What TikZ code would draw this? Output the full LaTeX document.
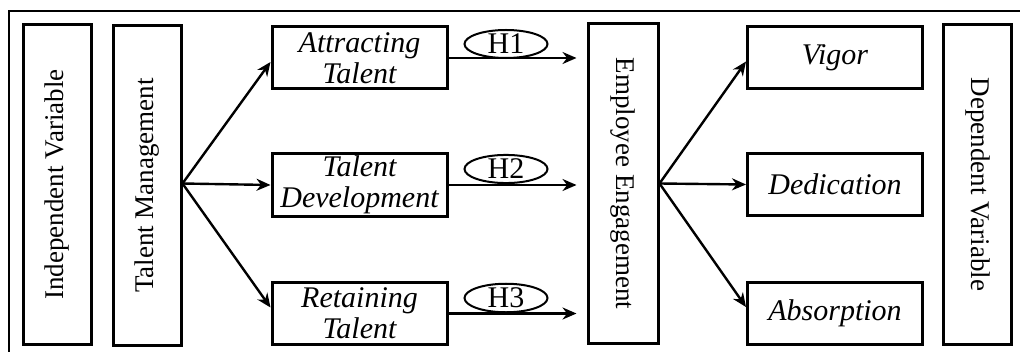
\documentclass[tikz,border=0pt]{standalone}
\usepackage{fontspec}
\setmainfont{Liberation Serif}
\usetikzlibrary{shapes.geometric,arrows.meta}
\begin{document}
\begin{tikzpicture}[x=0.5pt,y=-0.5pt,
  vbox/.style={draw,line width=1.5pt,minimum width=34pt,minimum height=159.5pt,inner sep=0pt,font=\fontsize{13.5}{15}\selectfont},
  dimbox/.style={draw,line width=1.5pt,minimum width=87.5pt,minimum height=31pt,inner sep=0pt,align=center,font=\fontsize{15}{15.5}\selectfont\itshape},
  hyp/.style={draw,ellipse,line width=1pt,minimum width=41.5pt,minimum height=12pt,inner sep=0pt,font=\fontsize{15}{15}\selectfont},
  arr/.style={-{Stealth[length=7pt,width=6pt]},line width=1.2pt},
  frame/.style={line width=1pt}]
\useasboundingbox (0,0) rectangle (1020,352);
\coordinate (fb) at (9,352);
\coordinate (ft) at (9,11);
\coordinate (fr) at (1020,11);
\draw[frame] (fb) -- (ft) -- (fr);
% boxes
\node[vbox] (IV) at (57,184.5) {\rotatebox{90}{Independent Variable}};
\node[vbox] (TM) at (147,185.5) {\rotatebox{90}{Talent Management}};
\node[dimbox] (AT) at (359.5,58) {Attracting\\Talent};
\node[dimbox] (TD) at (359.5,185) {Talent\\Development};
\node[dimbox] (RT) at (359.5,313.5) {Retaining\\Talent};
\node[vbox,minimum width=35pt] (EE) at (623,183.5) {\rotatebox{-90}{Employee Engagement}};
\node[dimbox] (VI) at (835,57.5) {Vigor};
\node[dimbox] (DE) at (835,184.5) {Dedication};
\node[dimbox] (AB) at (835,313) {Absorption};
\node[vbox] (DV) at (977.5,184.5) {\rotatebox{-90}{Dependent Variable}};
% hypotheses
\node[hyp] (H1) at (506,44) {H1};
\node[hyp] (H2) at (506,169) {H2};
\node[hyp] (H3) at (506,298) {H3};
% arrows left
\draw[arr] ([yshift=1pt]TM.east) -- ([yshift=-2pt]AT.west);
\draw[arr] ([yshift=1pt]TM.east) -- (TD.west);
\draw[arr] ([yshift=1pt]TM.east) -- ([yshift=3pt]RT.west);
% hypothesis arrows
\draw[arr,shorten >=5pt] (AT.east) -- (AT.east -| EE.west);
\draw[arr,shorten >=5pt] (TD.east) -- (TD.east -| EE.west);
\draw[arr,shorten >=5pt] (RT.east) -- (RT.east -| EE.west);
% arrows right
\draw[arr] (EE.east) -- ([yshift=-2pt]VI.west);
\draw[arr] (EE.east) -- (DE.west);
\draw[arr] (EE.east) -- ([yshift=3pt]AB.west);
\end{tikzpicture}
\end{document}
